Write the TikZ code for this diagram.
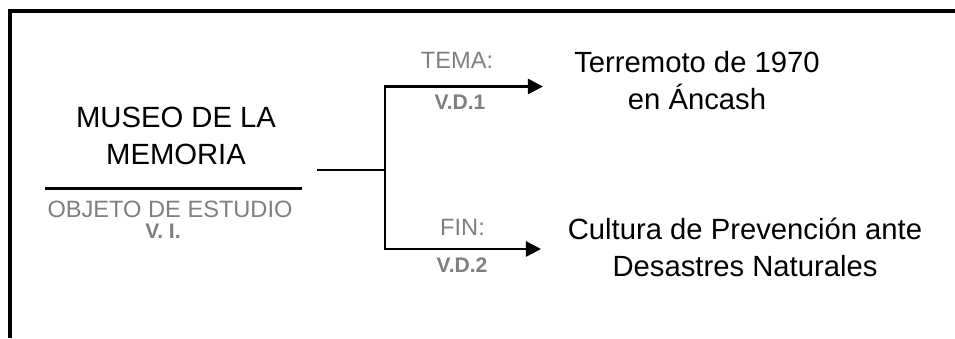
\documentclass[tikz,border=0pt]{standalone}
\usepackage{fontspec}
\setmainfont{Liberation Sans}
\usepackage{xcolor}
\usepackage{tikz}
\usetikzlibrary{arrows.meta}
\definecolor{ink}{HTML}{000000}
\definecolor{mute}{HTML}{7F7F7F}
\tikzset{
  title/.style = {align=center, inner sep=0pt, text=ink,
                  font=\fontsize{20.8}{26.3}\selectfont},
  note/.style  = {inner sep=0pt, text=mute, font=\fontsize{16.8}{20}\selectfont},
  tag/.style   = {inner sep=0pt, text=mute, font=\bfseries\fontsize{15}{18}\selectfont},
  ln/.style    = {draw=ink, line width=1.8pt},
  ar/.style    = {-{Triangle[length=10.7pt,width=10.7pt]}, line width=1.8pt, draw=ink},
}

\begin{document}
\begin{tikzpicture}
  \useasboundingbox (0,0) rectangle (23.875,8.45);

  % frame (top and left only)
  \draw[ink, line width=2.2pt] (0.25,0) -- (0.25,8.175) -- (23.875,8.175);

  % ----- object of study -----
  \node[title] (museo) at (4.4,5.05) {MUSEO DE LA\\MEMORIA};
  \draw[ln] (1.125,3.74) -- (7.55,3.74);
  \node[note] (objeto) at (4.25,3.225) {OBJETO DE ESTUDIO};
  \node[tag]  (vi) at (4.075,2.68) {V.\kern4pt I.};

  % fork
  \coordinate (src)  at (7.925,4.2);
  \coordinate (fork) at (9.625,4.2);
  \coordinate (tip1) at (13.575,6.2875);
  \coordinate (tip2) at (13.525,2.225);
  \draw[ln] (src) -- (fork);
  \draw[ar] (fork) |- (tip1);
  \draw[ar] (fork) |- (tip2);

  % branch labels
  \node[note] (tema) at (11.425,6.9375) {TEMA:};
  \node[tag]  (vd1)  at (11.5,5.9) {V.D.1};
  \node[note] (fin)  at (11.5625,2.7625) {FIN:};
  \node[tag]  (vd2)  at (11.55,1.8125) {V.D.2};

  % ----- targets -----
  \node[title] (tema1) at (17.425,6.4375) {Terremoto de 1970\\en Áncash};
  \node[title] (fin1)  at (18.625,2.2625) {Cultura de Prevención ante\\Desastres Naturales};

\end{tikzpicture}
\end{document}
